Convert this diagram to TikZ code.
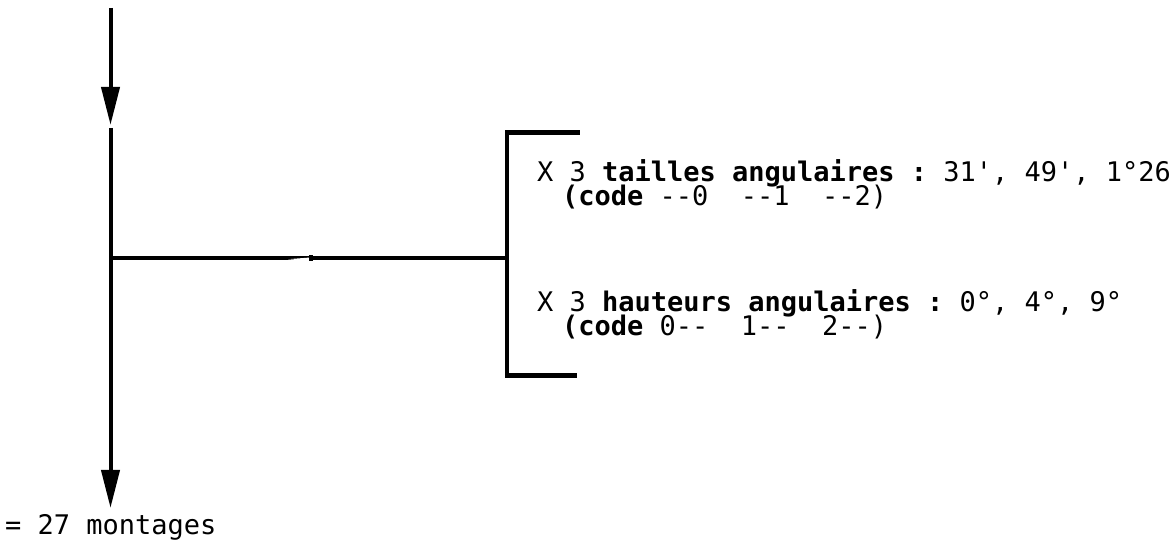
\documentclass[tikz,border=0pt]{standalone}
\usepackage{fontspec}
\setmonofont{DejaVu Sans Mono}
\usetikzlibrary{arrows.meta}

\tikzset{
  flow/.style={line width=2pt, black},
  flowarrow/.style={flow, -{Triangle[length=19pt,width=9pt]}},
  bracketline/.style={line width=2.2pt, black, line cap=rect},
  typed/.style={anchor=base west, inner sep=0pt, outer sep=0pt,
    font=\ttfamily\fontsize{13.5pt}{16pt}\selectfont},
}

\begin{document}
\begin{tikzpicture}[x=0.5pt, y=-0.5pt]
  \useasboundingbox (0,0) rectangle (1175,545);

  % main vertical flow and branch point
  \coordinate (start)   at (110.5,8);
  \coordinate (inlet)   at (110.5,125);
  \coordinate (resume)  at (110.5,128);
  \coordinate (branch)  at (110.5,258.5);
  \coordinate (outlet)  at (110.5,508);

  % bracket grouping the two factors
  \coordinate (brtop)   at (507,132.5);
  \coordinate (brmid)   at (507,258.5);
  \coordinate (brbot)   at (507,375.5);
  \coordinate (armtop)  at (578,132.5);
  \coordinate (armbot)  at (575,375.5);

  \draw[flowarrow] (start) -- (inlet);
  \draw[flowarrow] (resume) -- (outlet);
  \draw[flow] (branch) -- (brmid);
  \draw[bracketline] (armtop) -- (brtop) -- (brbot) -- (armbot);

  % small nick in the horizontal line
  \fill[white] (288,259.2) -- (309,257.6) -- (309,261.2) -- cycle;
  \fill[black] (309,255.5) rectangle (313,261.5);

  % factor descriptions
  \node[typed] (f1) at (537,182)
    {X 3 \textbf{tailles angulaires :} 31', 49', 1°26};
  \node[typed] (c1) at (562,206)
    {\textbf{(code} --0~~--1~~--2)};
  \node[typed] (f2) at (537,312)
    {X 3 \textbf{hauteurs angulaires :} 0°, 4°, 9°};
  \node[typed] (c2) at (562,336)
    {\textbf{(code} 0--~~1--~~2--)};

  % result
  \node[typed] (res) at (5,535) {= 27 montages};
\end{tikzpicture}
\end{document}
